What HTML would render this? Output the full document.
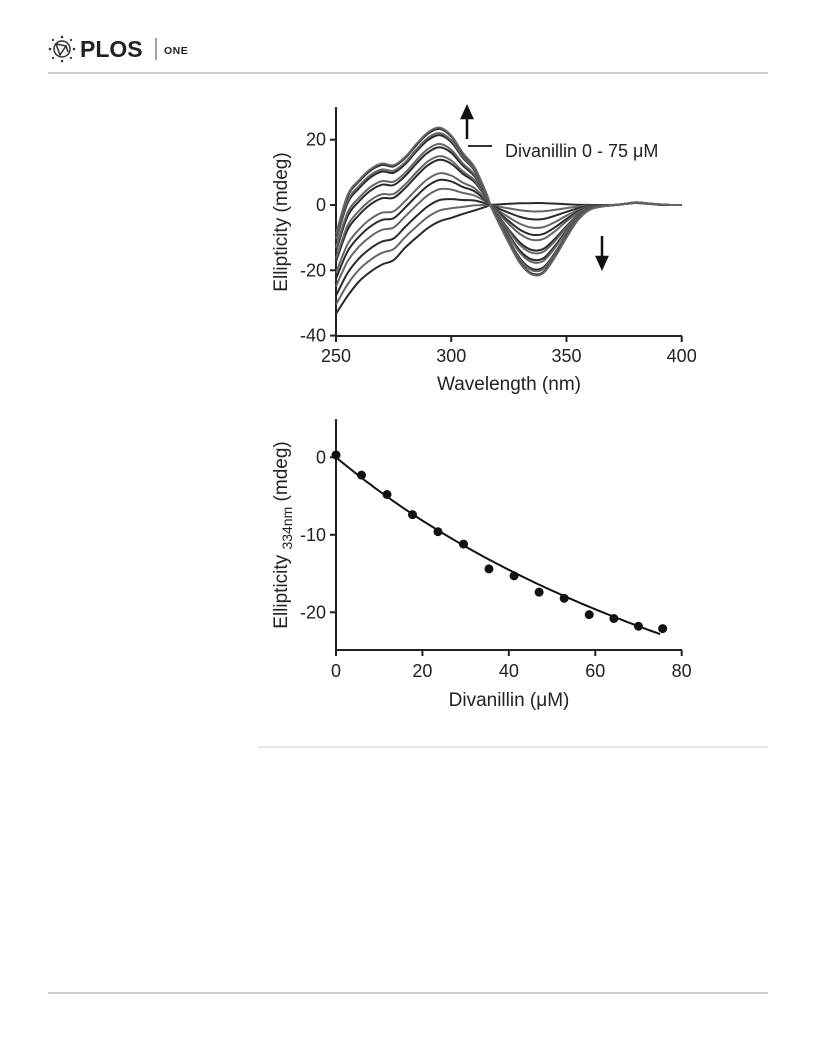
<!DOCTYPE html>
<html><head><meta charset="utf-8"><style>
body{margin:0;background:#fff;}
svg text{font-family:"Liberation Sans",Arial,sans-serif;fill:#222;}
</style></head><body>
<svg width="816" height="1056" viewBox="0 0 816 1056" xmlns="http://www.w3.org/2000/svg">
<g>
  <g stroke="#333" fill="none" stroke-width="1.5">
    <circle cx="62" cy="49" r="8"/>
    <path d="M56 44 L66 46 L60 55 Z M66 46 L68 52"/>
    <circle cx="50" cy="49" r="1.3" fill="#333" stroke="none"/><circle cx="74" cy="49" r="1.3" fill="#333" stroke="none"/>
    <circle cx="62" cy="37" r="1.3" fill="#333" stroke="none"/><circle cx="62" cy="61" r="1.3" fill="#333" stroke="none"/>
    <circle cx="53" cy="40" r="1.1" fill="#333" stroke="none"/><circle cx="71" cy="58" r="1.1" fill="#333" stroke="none"/>
    <circle cx="53" cy="58" r="1.1" fill="#333" stroke="none"/><circle cx="71" cy="40" r="1.1" fill="#333" stroke="none"/>
  </g>
  <text x="80" y="57" font-size="23" font-weight="bold" fill="#222">PLOS</text>
  <line x1="156" y1="38" x2="156" y2="60" stroke="#444" stroke-width="1"/>
  <text x="164" y="54" font-size="10.5" font-weight="bold" letter-spacing="0.5">ONE</text>
  <line x1="48" y1="73" x2="768" y2="73" stroke="#999" stroke-width="1"/>
</g>
<g id="top"></g>
<g id="bot"></g>
<line x1="258" y1="747" x2="768" y2="747" stroke="#ccc" stroke-width="1"/>
<line x1="48" y1="993" x2="768" y2="993" stroke="#999" stroke-width="1"/>
</svg>
<script>
const NS="http://www.w3.org/2000/svg";
// ---- data ----
const wavelengths=[250,255,260,265,270,275,280,285,290,295,300,305,310,315,317,320,325,330,335,340,345,350,355,360,365,370,375,380,385,390,395,400];
const spectrum0uM=[-33,-27.5,-23,-20,-17.8,-16.5,-12.7,-9.5,-6.6,-4.6,-3.6,-2.5,-1.5,-0.5,0,0.1,0.2,0.3,0.3,0.3,0.2,0.1,0,0,0,0,0.3,0.6,0.4,0.1,0,0];
const spectrum75uM=[-9,3,7.6,11,12.7,12.2,14.7,18.8,22.3,23.7,21.3,16,11.7,4,0,-4.6,-11.7,-18,-21.3,-20.8,-16,-10,-4.6,-1.5,-0.5,-0.1,0.3,0.8,0.5,0.2,0,0];
const concentrations=[0,5.9,11.8,17.7,23.6,29.5,35.4,41.2,47,52.8,58.6,64.3,70,75.6];
const ellipticity334=[0.3,-2.3,-4.8,-7.4,-9.6,-11.2,-14.4,-15.3,-17.4,-18.2,-20.3,-20.8,-21.8,-22.1];
const fitBmax=65.7, fitKd=141;
const topXTicks=[250,300,350,400], topYTicks=[20,0,-20,-40];
const botXTicks=[0,20,40,60,80], botYTicks=[0,-10,-20];

function el(tag,attrs,parent,txt){const e=document.createElementNS(NS,tag);for(const k in attrs)e.setAttribute(k,attrs[k]);if(txt!==undefined)e.textContent=txt;parent.appendChild(e);return e;}
function smooth(pts){let d='M'+pts[0][0].toFixed(1)+' '+pts[0][1].toFixed(1);
 for(let i=0;i<pts.length-1;i++){const p0=pts[Math.max(0,i-1)],p1=pts[i],p2=pts[i+1],p3=pts[Math.min(pts.length-1,i+2)];
  const c1=[p1[0]+(p2[0]-p0[0])/6,p1[1]+(p2[1]-p0[1])/6],c2=[p2[0]-(p3[0]-p1[0])/6,p2[1]-(p3[1]-p1[1])/6];
  d+=` C${c1[0].toFixed(1)} ${c1[1].toFixed(1)} ${c2[0].toFixed(1)} ${c2[1].toFixed(1)} ${p2[0].toFixed(1)} ${p2[1].toFixed(1)}`;}
 return d;}

// ---- top chart ----
const T=document.getElementById('top');
const tx=v=>336+(v-250)*(681.7-336)/150;
const ty=v=>205-v*65.3/20;
let a=el('path',{d:`M336 107 L336 336 L682 336`,fill:'none',stroke:'#222','stroke-width':2},T);


topXTicks.forEach(v=>{el('line',{x1:tx(v),y1:336,x2:tx(v),y2:342,stroke:'#222','stroke-width':2},T);
 const t=el('text',{x:tx(v),y:362,'font-size':18,'text-anchor':'middle'},T,v);
 
 });
topYTicks.forEach(v=>{el('line',{x1:330,y1:ty(v),x2:336,y2:ty(v),stroke:'#222','stroke-width':2},T);
 const t=el('text',{x:326,y:ty(v)+6,'font-size':18,'text-anchor':'end'},T,v);
 
 });
const tot=ellipticity334[ellipticity334.length-1];
ellipticity334.forEach((e,i)=>{const f=e/tot;
 const pts=wavelengths.map((w,j)=>[tx(w),ty(spectrum0uM[j]+f*(spectrum75uM[j]-spectrum0uM[j]))]);
 const p=el('path',{d:smooth(pts),fill:'none',stroke:i%2?'#666':'#2a2a2a','stroke-width':2,'stroke-linejoin':'round'},T);
 
 });
let t1=el('text',{x:505,y:157,'font-size':18},T,'Divanillin 0 - 75 \u03BCM');


let l1=el('line',{x1:468,y1:146,x2:492,y2:146,stroke:'#333','stroke-width':2},T);


let ar1=el('path',{d:'M467 139 L467 116 M462 118 L467 107 L472 118 Z',stroke:'#111','stroke-width':2.5,fill:'#111'},T);


let ar2=el('path',{d:'M602 236 L602 260 M597 257 L602 268 L607 257 Z',stroke:'#111','stroke-width':2.5,fill:'#111'},T);


let xt1=el('text',{x:509,y:390,'font-size':19,'text-anchor':'middle'},T,'Wavelength (nm)');


let yt1=el('text',{x:0,y:0,'font-size':19,'text-anchor':'middle',transform:'translate(287 222) rotate(-90)'},T,'Ellipticity (mdeg)');



// ---- bottom chart ----
const B=document.getElementById('bot');
const bx=v=>336+v*(681.7-336)/80;
const by=v=>457.3-v*7.75;
let a2=el('path',{d:`M336 419 L336 650 L682 650`,fill:'none',stroke:'#222','stroke-width':2},B);


botXTicks.forEach(v=>{el('line',{x1:bx(v),y1:650,x2:bx(v),y2:656,stroke:'#222','stroke-width':2},B);
 const t=el('text',{x:bx(v),y:677,'font-size':18,'text-anchor':'middle'},B,v);
 
 });
botYTicks.forEach(v=>{el('line',{x1:330,y1:by(v),x2:336,y2:by(v),stroke:'#222','stroke-width':2},B);
 const t=el('text',{x:326,y:by(v)+6,'font-size':18,'text-anchor':'end'},B,v);
 
 });
let fd='';for(let c=0;c<=75;c+=1){fd+=(c?'L':'M')+bx(c).toFixed(1)+' '+by(-fitBmax*c/(fitKd+c)).toFixed(1)+' ';}
let fit=el('path',{d:fd,fill:'none',stroke:'#111','stroke-width':2},B);


concentrations.forEach((c,i)=>{const p=el('circle',{cx:bx(c),cy:by(ellipticity334[i]),r:4.5,fill:'#111'},B);
 
 });
let xt2=el('text',{x:509,y:706,'font-size':19,'text-anchor':'middle'},B,'Divanillin (\u03BCM)');


let yt2=el('text',{x:0,y:0,'font-size':19,'text-anchor':'middle',transform:'translate(287 535) rotate(-90)'},B);


el('tspan',{},yt2,'Ellipticity ');
el('tspan',{'font-size':14,dy:5},yt2,'334nm');
el('tspan',{dy:-5},yt2,' (mdeg)');
</script>
</body></html>
